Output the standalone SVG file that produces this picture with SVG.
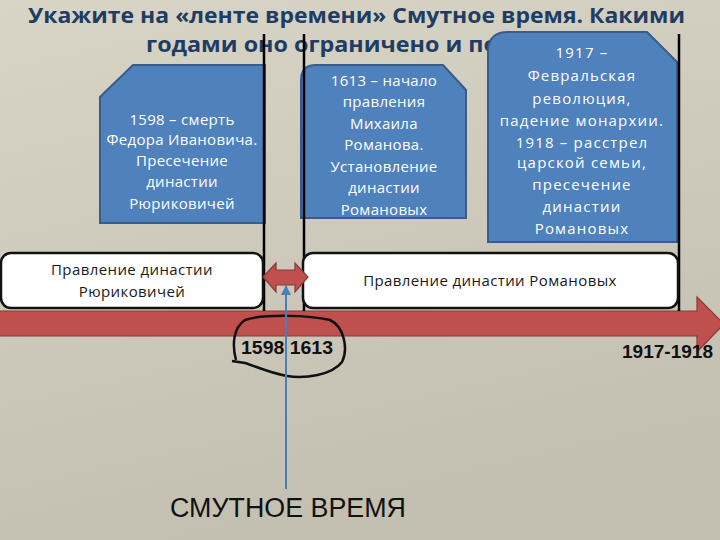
<svg xmlns="http://www.w3.org/2000/svg" width="720" height="540" viewBox="0 0 720 540">
<defs>
<linearGradient id="bg" x1="0" y1="0" x2="0.3" y2="1">
<stop offset="0" stop-color="#d8d5c6"/>
<stop offset="1" stop-color="#c3bfb1"/>
</linearGradient>
<marker id="ah" viewBox="0 0 10 10" refX="9" refY="5" markerWidth="5" markerHeight="5" orient="auto">
<path d="M0,0 L10,5 L0,10 Z" fill="#4a7ebb"/>
</marker>
<style>
.title{font-family:"Open Sans","Liberation Sans",sans-serif;font-weight:bold;font-size:22px;fill:#1f3d63}
.blue{fill:#4f81bd;stroke:#385d8a;stroke-width:2}
.wt{font-family:"Open Sans","Liberation Sans",sans-serif;font-size:15px;letter-spacing:0.3px;fill:#ffffff;text-anchor:middle}
.wt3{letter-spacing:1.2px}
.wbox{fill:#ffffff;stroke:#111111;stroke-width:2.5}
.bt{font-family:"Open Sans","Liberation Sans",sans-serif;font-size:15px;letter-spacing:0.4px;fill:#1a1a1a;text-anchor:middle}
.vl{stroke:#000000;stroke-width:2.5}
.red{fill:#c0504d;stroke:#8c3836;stroke-width:1.2}
.yr{font-family:"Liberation Sans",sans-serif;font-weight:bold;font-size:18px;fill:#111111}
</style>
</defs>
<rect width="720" height="540" fill="url(#bg)"/>
<g id="title">
<text class="title" x="28" y="23" textLength="657" lengthAdjust="spacingAndGlyphs">Укажите на «ленте времени» Смутное время. Какими</text>
<text class="title" x="146" y="52" font-size="25" textLength="352" lengthAdjust="spacingAndGlyphs">годами оно ограничено и по</text>
</g>
<g id="timeline">
<polygon class="red" points="-2,311 697,311 697,297 724,324 697,352 697,336 -2,336"/>
</g>
<g id="box1598">
<polygon class="blue" points="133,65 265,65 265,223 100,223 100,97"/>
<text class="wt" y="125"><tspan x="182">1598 – смерть</tspan><tspan x="182" y="145">Федора Ивановича.</tspan><tspan x="182" y="166">Пресечение</tspan><tspan x="182" y="187">династии</tspan><tspan x="182" y="209">Рюриковичей</tspan></text>
</g>
<g id="box1613">
<path class="blue" d="M301,80 Q301,65 316,65 L443,65 L466,90 L466,218 L301,218 Z"/>
<text class="wt" y="86"><tspan x="384">1613 – начало</tspan><tspan x="384" y="107">правления</tspan><tspan x="384" y="129">Михаила</tspan><tspan x="384" y="150">Романова.</tspan><tspan x="384" y="172">Установление</tspan><tspan x="384" y="193">династии</tspan><tspan x="384" y="215">Романовых</tspan></text>
</g>
<g id="box1917">
<path class="blue" d="M488,52 Q488,32 508,32 L647,32 L677,62 L677,242 L488,242 Z"/>
<text class="wt wt3" y="58"><tspan x="582">1917 –</tspan><tspan x="582" y="81">Февральская</tspan><tspan x="582" y="104">революция,</tspan><tspan x="582" y="126">падение монархии.</tspan><tspan x="582" y="148">1918 – расстрел</tspan><tspan x="582" y="168">царской семьи,</tspan><tspan x="582" y="190">пресечение</tspan><tspan x="582" y="212">династии</tspan><tspan x="582" y="234">Романовых</tspan></text>
</g>
<g id="dividers">
<line class="vl" x1="264" y1="34" x2="264" y2="311"/>
<line class="vl" x1="304" y1="34" x2="304" y2="311"/>
<line class="vl" x1="679" y1="34" x2="679" y2="311"/>
</g>
<g id="rurik">
<rect class="wbox" x="1" y="253" width="262" height="55" rx="10"/>
<text class="bt" x="132" y="275">Правление династии</text>
<text class="bt" x="132" y="297">Рюриковичей</text>
</g>
<g id="romanov">
<rect class="wbox" x="303" y="253" width="375" height="55" rx="10"/>
<text class="bt" x="490" y="286">Правление династии Романовых</text>
</g>
<g id="connectors">
<polygon class="red" points="263,277 276,263 276,270 295,270 295,263 308,277 295,292 295,285 276,285 276,292"/>
<path d="M236,360 C232,345 233,328 245,320 C262,314 310,315 330,320 C345,327 348,350 342,362 C332,375 305,379 287,376 C270,373 255,366 245,363 L232,361" fill="none" stroke="#111111" stroke-width="2.5"/>
<line x1="286" y1="489" x2="286" y2="286" stroke="#4a7ebb" stroke-width="2" marker-end="url(#ah)"/>
</g>
<g id="years">
<text class="yr" x="241" y="354" textLength="92" lengthAdjust="spacingAndGlyphs">1598  1613</text>
<text class="yr" x="622" y="358" textLength="91" lengthAdjust="spacingAndGlyphs">1917-1918</text>
</g>
<g id="smuta">
<text x="170" y="517" font-family="Liberation Sans, sans-serif" font-size="27" fill="#111111" textLength="236" lengthAdjust="spacingAndGlyphs">СМУТНОЕ ВРЕМЯ</text>
</g>
</svg>
